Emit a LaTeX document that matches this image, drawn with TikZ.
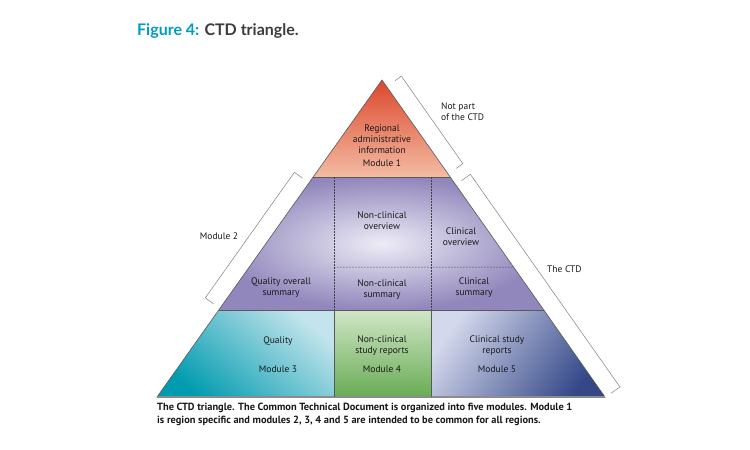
\documentclass[tikz,border=0pt]{standalone}
\usepackage{fontspec}
\setmainfont{PT Sans}
\newfontfamily\titlefont{Lato}
\usepackage{xcolor}
\usetikzlibrary{calc}

\definecolor{figblue}{RGB}{0,155,195}
\definecolor{figgray}{RGB}{60,60,60}
\definecolor{modonetop}{RGB}{220,72,45}
\definecolor{modonebot}{RGB}{243,188,163}
\definecolor{modtwoout}{RGB}{145,135,188}
\definecolor{modtwoin}{RGB}{238,236,246}
\definecolor{modthreedark}{RGB}{0,155,175}
\definecolor{modthreelight}{RGB}{195,228,236}
\definecolor{modfourtop}{RGB}{208,230,198}
\definecolor{modfourbot}{RGB}{104,172,84}
\definecolor{modfivelight}{RGB}{212,216,236}
\definecolor{modfivedark}{RGB}{52,72,136}

\begin{document}
\begin{tikzpicture}[
    x=1pt, y=-1pt,
    lbl/.style={align=center, font=\fontsize{9.5}{11}\selectfont,
                text=black!90, inner sep=0pt},
    side/.style={lbl, align=left, anchor=west},
    solidline/.style={draw=black!65, line width=0.6pt},
    dotline/.style={draw=black!75, line width=0.5pt,
                    dash pattern=on 1.5pt off 1.5pt},
    bracket/.style={draw=black!50, line width=0.5pt},
]
\useasboundingbox (0,0) rectangle (750,450);

% triangle corners and band edges
\coordinate (apex) at (382,80);
\coordinate (bl) at (157,397);
\coordinate (br) at (605,397);
\coordinate (l1) at ($(apex)!0.306!(bl)$);
\coordinate (r1) at ($(apex)!0.306!(br)$);
\coordinate (l2) at ($(apex)!0.7256!(bl)$);
\coordinate (r2) at ($(apex)!0.7256!(br)$);
\coordinate (rmid) at ($(apex)!0.5899!(br)$);
\coordinate (c1top) at (334,177);
\coordinate (c2top) at (431,177);
\coordinate (c1mid) at (334,267);
\coordinate (c1bot) at (334,310);
\coordinate (c2bot) at (431,310);
\coordinate (d1) at (334,397);
\coordinate (d2) at (431,397);

% modules
\shade[top color=modonetop, bottom color=modonebot]
    (apex) -- (r1) -- (l1) -- cycle;
\shade[inner color=modtwoin, outer color=modtwoout]
    (l1) -- (r1) -- (r2) -- (l2) -- cycle;
\shade[top color=modthreelight, bottom color=modthreedark, shading angle=-40]
    (l2) -- (c1bot) -- (d1) -- (bl) -- cycle;
\shade[top color=modfourtop, bottom color=modfourbot]
    (c1bot) -- (c2bot) -- (d2) -- (d1) -- cycle;
\shade[top color=modfivelight, bottom color=modfivedark, shading angle=55]
    (c2bot) -- (r2) -- (br) -- (d2) -- cycle;

% outlines
\draw[solidline] (apex) -- (br) -- (bl) -- cycle;
\draw[draw=black!45, line width=1.5pt] (bl) -- (br);
\draw[solidline] (l1) -- (r1);
\draw[solidline] (l2) -- (r2);
\draw[solidline] (c1bot) -- (d1);
\draw[solidline] (c2bot) -- (d2);
\draw[dotline] (c1top) -- (c1bot);
\draw[dotline] (c2top) -- (c2bot);
\draw[dotline] (c1mid) -- (rmid);

% brackets
\coordinate (np1) at ($(apex)!8pt!(br)$);
\coordinate (np2) at ($(apex)!115pt!(br)$);
\draw[bracket] ($(np1)!10pt!-90:(apex)$) -- ($(np1)!18pt!-90:(apex)$)
    -- ($(np2)!18pt!-90:(apex)$) -- ($(np2)!10pt!-90:(apex)$);
\coordinate (ctd1) at ($(apex)!128pt!(br)$);
\coordinate (ctd2) at ($(apex)!388pt!(br)$);
\draw[bracket] ($(ctd1)!7pt!-90:(apex)$) -- ($(ctd1)!18pt!-90:(apex)$)
    -- ($(ctd2)!18pt!-90:(apex)$) -- ($(ctd2)!7pt!-90:(apex)$);
\coordinate (mt1) at ($(apex)!126pt!(bl)$);
\coordinate (mt2) at ($(apex)!280pt!(bl)$);
\draw[bracket] ($(mt1)!8pt!90:(apex)$) -- ($(mt1)!18pt!90:(apex)$)
    -- ($(mt2)!18pt!90:(apex)$) -- ($(mt2)!8pt!90:(apex)$);

% labels
\node[anchor=west, inner sep=0pt, font=\titlefont\bfseries\fontsize{16}{18}\selectfont]
    (title) at (137,31) {\textcolor{figblue}{Figure 4:} \textcolor{figgray}{CTD triangle.}};

\node[lbl] (regional) at (382,139) {Regional\\administrative\\information};
\node[lbl] (mod1) at (382,163) {Module 1};
\node[lbl] (ncover) at (382,221) {Non-clinical\\overview};
\node[lbl] (clover) at (461,237) {Clinical\\overview};
\node[lbl] (qos) at (281,288) {Quality overall\\summary};
\node[lbl] (ncsum) at (382,290) {Non-clinical\\summary};
\node[lbl] (clsum) at (474,288) {Clinical\\summary};
\node[lbl] (quality) at (278,341) {Quality};
\node[lbl] (mod3) at (278,369) {Module 3};
\node[lbl] (ncstudy) at (382,346) {Non-clinical\\study reports};
\node[lbl] (mod4) at (382,369) {Module 4};
\node[lbl] (clstudy) at (497,346) {Clinical study\\reports};
\node[lbl] (mod5) at (497,369) {Module 5};

\node[lbl] (mod2) at (219,236) {Module 2};
\node[side] (notpart) at (441,112) {Not part\\of the CTD};
\node[side] (thectd) at (547,269) {The CTD};

\node[anchor=north west, align=left, inner sep=0pt,
      font=\bfseries\fontsize{10.4}{13}\selectfont, text=black!90]
    (caption) at (157,403)
    {The CTD triangle. The Common Technical Document is organized into five modules. Module 1\\
     is region specific and modules 2, 3, 4 and 5 are intended to be common for all regions.};
\end{tikzpicture}
\end{document}
